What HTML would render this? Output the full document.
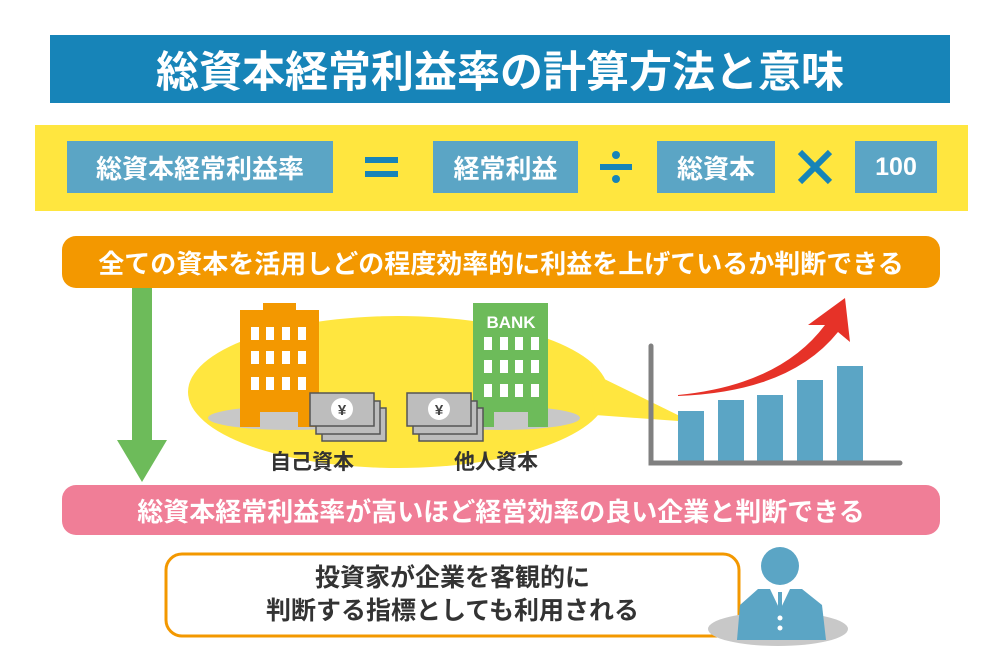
<!DOCTYPE html>
<html><head><meta charset="utf-8"><style>
body{margin:0;width:1000px;height:666px;background:#fff;position:relative;overflow:hidden;font-family:"Liberation Sans","Noto Sans CJK JP",sans-serif;font-weight:bold}
.a{position:absolute;display:flex;align-items:center;justify-content:center;color:#fff;white-space:nowrap;text-align:center}
</style></head><body>
<svg width="1000" height="666" style="position:absolute;left:0;top:0">
<rect x="50" y="35" width="900" height="68" fill="#1784b8"/>
<rect x="35" y="125" width="933" height="86" fill="#ffe63f"/>
<rect x="67" y="141" width="266" height="52" fill="#5ba5c5"/>
<rect x="433" y="141" width="145" height="52" fill="#5ba5c5"/>
<rect x="657" y="141" width="118" height="52" fill="#5ba5c5"/>
<rect x="855" y="141" width="82" height="52" fill="#5ba5c5"/>
<rect x="365" y="157" width="33" height="6" fill="#1784b8"/><rect x="365" y="171" width="33" height="6" fill="#1784b8"/>
<rect x="600" y="164" width="32" height="6" fill="#1784b8"/><circle cx="616" cy="155" r="4" fill="#1784b8"/><circle cx="616" cy="179" r="4" fill="#1784b8"/>
<path d="M800 152 L830 182 M830 152 L800 182" stroke="#1784b8" stroke-width="6"/>
<rect x="62" y="236" width="878" height="52" rx="14" fill="#f39800"/>
<rect x="132" y="288" width="20" height="154" fill="#6dbb5a"/>
<path d="M117 440 L167 440 L142 482 Z" fill="#6dbb5a"/>
<ellipse cx="398" cy="392" rx="210" ry="76" fill="#ffe63f"/>
<path d="M590 372 L692 422 L595 415 Z" fill="#ffe63f"/>
<ellipse cx="290" cy="418" rx="82" ry="12" fill="#c8c8c8"/>
<ellipse cx="500" cy="418" rx="80" ry="12" fill="#c8c8c8"/>
<rect x="240" y="310" width="79" height="117" fill="#f39800"/><rect x="263" y="303" width="33" height="8" fill="#f39800"/>
<g fill="#fff"><rect x="251" y="327" width="8" height="13"/><rect x="266" y="327" width="8" height="13"/><rect x="282" y="327" width="8" height="13"/><rect x="298" y="327" width="8" height="13"/>
<rect x="251" y="351" width="8" height="13"/><rect x="266" y="351" width="8" height="13"/><rect x="282" y="351" width="8" height="13"/><rect x="298" y="351" width="8" height="13"/>
<rect x="251" y="377" width="8" height="13"/><rect x="266" y="377" width="8" height="13"/><rect x="282" y="377" width="8" height="13"/><rect x="298" y="377" width="8" height="13"/></g>
<rect x="260" y="412" width="38" height="15" fill="#c8c8c8"/>
<rect x="473" y="303" width="75" height="124" fill="#6dbb5a"/>
<text x="511" y="328" fill="#fff" font-size="17" text-anchor="middle" font-weight="bold" font-family="Liberation Sans,sans-serif">BANK</text>
<g fill="#fff"><rect x="484" y="337" width="8" height="13"/><rect x="500" y="337" width="8" height="13"/><rect x="515" y="337" width="8" height="13"/><rect x="531" y="337" width="8" height="13"/>
<rect x="484" y="360" width="8" height="13"/><rect x="500" y="360" width="8" height="13"/><rect x="515" y="360" width="8" height="13"/><rect x="531" y="360" width="8" height="13"/>
<rect x="484" y="384" width="8" height="13"/><rect x="500" y="384" width="8" height="13"/><rect x="515" y="384" width="8" height="13"/><rect x="531" y="384" width="8" height="13"/></g>
<rect x="494" y="412" width="34" height="15" fill="#c8c8c8"/>
<g stroke="#555" stroke-width="1.5" fill="#bdbdbd">
<rect x="322" y="408" width="64" height="33"/><rect x="316" y="401" width="64" height="33"/><rect x="310" y="393" width="64" height="33"/>
<rect x="419" y="408" width="64" height="33"/><rect x="413" y="401" width="64" height="33"/><rect x="407" y="393" width="64" height="33"/></g>
<circle cx="342" cy="409" r="11" fill="#fff"/><text x="342" y="415" font-size="15" text-anchor="middle" fill="#444">¥</text>
<circle cx="439" cy="409" r="11" fill="#fff"/><text x="439" y="415" font-size="15" text-anchor="middle" fill="#444">¥</text>
<text x="312" y="469" font-size="21" text-anchor="middle" fill="#333" font-family="Liberation Sans,Noto Sans CJK JP,sans-serif" font-weight="bold">自己資本</text>
<text x="496" y="469" font-size="21" text-anchor="middle" fill="#333" font-family="Liberation Sans,Noto Sans CJK JP,sans-serif" font-weight="bold">他人資本</text>
<g fill="#5ba5c5"><rect x="678" y="411" width="26" height="51"/><rect x="718" y="400" width="26" height="62"/><rect x="757" y="395" width="26" height="67"/><rect x="797" y="380" width="26" height="82"/><rect x="837" y="366" width="26" height="96"/></g>
<path d="M651 346 L651 463 L900 463" stroke="#808080" stroke-width="5" fill="none" stroke-linecap="round"/>
<path d="M678 395 Q780 385 825 325 L808 325 L845 298 L850 342 L838 332 Q790 392 678 396 Z" fill="#e63228"/>
<rect x="62" y="485" width="878" height="50" rx="14" fill="#f07e97"/>
<rect x="166" y="554" width="573" height="82" rx="16" fill="#fff" stroke="#f39800" stroke-width="3"/>
<ellipse cx="778" cy="629" rx="70" ry="17" fill="#c8c8c8"/>
<circle cx="780" cy="566" r="19" fill="#5ba5c5"/>
<path d="M758 589 L802 589 L822 605 L826 640 L737 640 L740 605 Z" fill="#5ba5c5"/>
<path d="M770 589 L780 610 L790 589 Z" fill="#fff"/><rect x="778" y="592" width="4" height="18" fill="#5ba5c5"/>
<circle cx="780" cy="618" r="2.5" fill="#fff"/><circle cx="780" cy="628" r="2.5" fill="#fff"/>
</svg>
<div class="a" style="left:50px;top:35px;width:900px;height:68px;font-size:43px">総資本経常利益率の計算方法と意味</div>
<div class="a" style="left:67px;top:141px;width:266px;height:52px;font-size:26px">総資本経常利益率</div>
<div class="a" style="left:433px;top:141px;width:145px;height:52px;font-size:26px">経常利益</div>
<div class="a" style="left:657px;top:141px;width:118px;height:52px;font-size:26px">総資本</div>
<div class="a" style="left:855px;top:141px;width:82px;height:52px;font-size:25px">100</div>
<div class="a" style="left:62px;top:236px;width:878px;height:52px;font-size:26px">全ての資本を活用しどの程度効率的に利益を上げているか判断できる</div>
<div class="a" style="left:62px;top:485px;width:878px;height:50px;font-size:26px">総資本経常利益率が高いほど経営効率の良い企業と判断できる</div>
<div class="a" style="left:166px;top:554px;width:573px;height:82px;font-size:25px;color:#333;line-height:33px"><div>投資家が企業を客観的に<br>判断する指標としても利用される</div></div>
</body></html>
